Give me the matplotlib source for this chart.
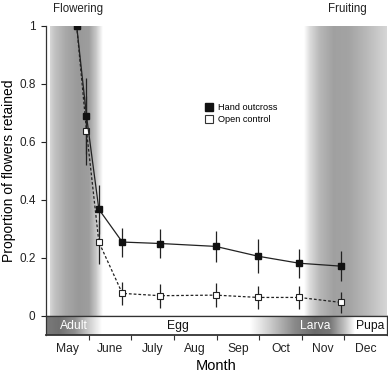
import numpy as np
import matplotlib
matplotlib.use("Agg")
import matplotlib.pyplot as plt
from matplotlib.lines import Line2D

plt.rcParams['font.family'] = ['Liberation Sans', 'DejaVu Sans']

# ---- data ----
months = ["May", "June", "July", "Aug", "Sep", "Oct", "Nov", "Dec"]
x_time = [0.72, 0.95, 1.24, 1.79, 2.68, 3.98, 4.98, 5.94, 6.91]
hand_outcross = [1.0, 0.69, 0.368, 0.255, 0.25, 0.24, 0.206, 0.182, 0.172]
hand_err = [0.0, 0.13, 0.085, 0.05, 0.049, 0.053, 0.058, 0.05, 0.052]
open_control = [1.0, 0.639, 0.255, 0.078, 0.07, 0.072, 0.064, 0.064, 0.047]
open_err = [0.0, 0.12, 0.075, 0.04, 0.042, 0.042, 0.041, 0.04, 0.035]
yticks = [0, 0.2, 0.4, 0.6, 0.8, 1]
ytick_labels = ["0", "0.2", "0.4", "0.6", "0.8", "1"]
stages = ["Adult", "Egg", "Larva", "Pupa"]

W, H = 388, 372
fig = plt.figure(figsize=(W / 100, H / 100), dpi=100)

def fx(px):
    return px / W

def fy(py):
    return 1 - py / H

ax = fig.add_axes([fx(46), fy(316), fx(387) - fx(46), fy(26) - fy(316)])
sax = fig.add_axes([fx(46), fy(335), fx(387) - fx(46), fy(316) - fy(335)])

def gradient(axis, keys_x, keys_g, y0, y1):
    xs = np.linspace(keys_x[0], keys_x[-1], 400)
    g = np.interp(xs, keys_x, keys_g)
    img = np.ones((1, len(xs), 4))
    img[0, :, 0] = g
    img[0, :, 1] = g
    img[0, :, 2] = g
    axis.imshow(img, extent=(keys_x[0], keys_x[-1], y0, y1), aspect='auto',
                interpolation='bilinear', zorder=0)

# flowering & fruiting bands
gradient(ax, [0.09, 0.2, 0.45, 0.75, 0.99, 1.15, 1.31], [0.84, 0.76, 0.66, 0.60, 0.62, 0.78, 1.0], 0, 1)
gradient(ax, [6.06, 6.2, 6.43, 6.75, 7.1, 7.5, 8.0], [1.0, 0.86, 0.72, 0.63, 0.64, 0.72, 0.84], 0, 1)

# series
ax.errorbar(x_time, open_control, yerr=open_err, fmt='none', ecolor='#222222',
            elinewidth=0.9, capsize=0, zorder=2)
ax.errorbar(x_time, hand_outcross, yerr=hand_err, fmt='none', ecolor='#222222',
            elinewidth=0.9, capsize=0, zorder=2)
ax.plot(x_time, open_control, linestyle=(0, (2.2, 1.6)), color='#222222', lw=0.9,
        marker='s', markersize=3.8, markerfacecolor='white', markeredgecolor='#222222',
        markeredgewidth=0.8, zorder=3)
ax.plot(x_time, hand_outcross, linestyle='-', color='#222222', lw=0.9,
        marker='s', markersize=3.8, markerfacecolor='#111111', markeredgecolor='#111111',
        zorder=4)

ax.set_xlim(0, 8)
ax.set_ylim(0, 1)
ax.set_yticks(yticks)
ax.set_yticklabels(ytick_labels, fontsize=8.5)
ax.tick_params(axis='y', direction='out', length=3.5, width=0.8, pad=4, colors='#222222')
ax.set_xticks([])
for s in ['top', 'right']:
    ax.spines[s].set_visible(False)
ax.spines['left'].set_linewidth(0.9)
ax.spines['bottom'].set_linewidth(0.9)
ax.spines['left'].set_color('#333333')
ax.spines['bottom'].set_color('#333333')
ax.set_ylabel("Proportion of flowers retained", fontsize=10)
ax.yaxis.set_label_coords(-0.088, 0.5)

handles = [
    Line2D([], [], linestyle='none', marker='s', markersize=5.5, markerfacecolor='#111111',
           markeredgecolor='#111111'),
    Line2D([], [], linestyle='none', marker='s', markersize=5.5, markerfacecolor='white',
           markeredgecolor='#333333', markeredgewidth=0.8),
]
ax.legend(handles, ["Hand outcross", "Open control"], loc='upper left',
          bbox_to_anchor=(0.455, 0.75), frameon=False, fontsize=6.6,
          handlelength=0.8, handletextpad=0.5, labelspacing=0.35, borderpad=0)

fig.text(fx(78), fy(9), "Flowering", ha='center', va='center', fontsize=8.3, color='#222222')
fig.text(fx(347), fy(9), "Fruiting", ha='center', va='center', fontsize=8.3, color='#222222')

# stage strip
gradient(sax, [0.0, 0.3, 0.68, 1.03, 1.31], [0.48, 0.44, 0.56, 0.82, 1.0], 0, 1)
gradient(sax, [4.79, 5.26, 5.84, 6.31, 6.66, 7.01, 7.25], [1.0, 0.80, 0.54, 0.42, 0.46, 0.76, 1.0], 0, 1)
sax.set_xlim(0, 8)
sax.set_ylim(0, 1)
stage_x = [0.66, 3.09, 6.31, 7.6]
stage_colors = ['white', '#111111', 'white', '#111111']
for name, sx, c in zip(stages, stage_x, stage_colors):
    sax.text(sx, 0.45, name, ha='center', va='center', fontsize=8.7, color=c)
sax.set_yticks([])
sax.set_xticks(range(1, 8))
sax.set_xticklabels([])
sax.set_xticks([i + 0.5 for i in range(8)], minor=True)
sax.set_xticklabels(months, minor=True, fontsize=8.7)
sax.tick_params(axis='x', which='major', direction='out', length=3.5, width=0.8, colors='#333333')
sax.tick_params(axis='x', which='minor', length=0, pad=6, labelcolor='#222222')
for s in sax.spines.values():
    s.set_linewidth(0.9)
    s.set_color('#333333')
sax.spines['bottom'].set_linewidth(1.3)
sax.set_xlabel("Month", fontsize=10.5, labelpad=3)

fig.savefig("out.png", dpi=100)
